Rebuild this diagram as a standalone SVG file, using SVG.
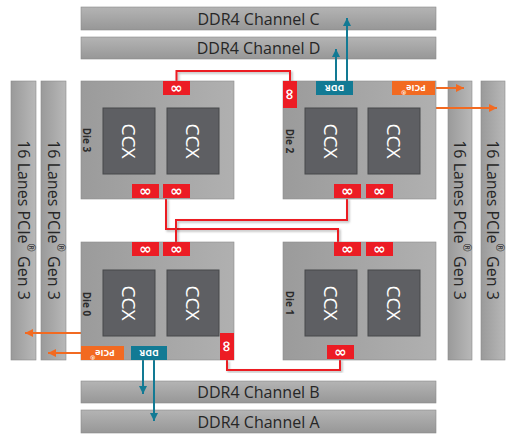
<svg xmlns="http://www.w3.org/2000/svg" width="512" height="445" viewBox="0 0 512 445">
<defs>
<linearGradient id="gH" x1="0" y1="0" x2="0" y2="1"><stop offset="0" stop-color="#b4b4b4"/><stop offset="1" stop-color="#979797"/></linearGradient>
<linearGradient id="gV" x1="0" y1="0" x2="1" y2="0"><stop offset="0" stop-color="#9a9a9a"/><stop offset="1" stop-color="#b8b8b8"/></linearGradient>
<linearGradient id="gDie" x1="0" y1="0" x2="1" y2="0"><stop offset="0" stop-color="#9b9b9b"/><stop offset="1" stop-color="#b0b0b0"/></linearGradient>
<filter id="sh" x="-10%" y="-10%" width="130%" height="130%"><feDropShadow dx="1.5" dy="1.5" stdDeviation="1" flood-color="#000" flood-opacity="0.3"/></filter>
<marker id="aT" viewBox="0 0 10 10" refX="10" refY="5" markerWidth="8" markerHeight="8" markerUnits="userSpaceOnUse" orient="auto"><path d="M0,0 L10,5 L0,10 z" fill="#127a94"/></marker>
<marker id="aO" viewBox="0 0 10 10" refX="10" refY="5" markerWidth="8" markerHeight="8" markerUnits="userSpaceOnUse" orient="auto"><path d="M0,0 L10,5 L0,10 z" fill="#f26a21"/></marker>
</defs>
<style>
.bar{stroke:#8a8a8a;stroke-width:0.6}
.die{fill:url(#gDie);stroke:#8c8c8c;stroke-width:0.6}
.ccx{fill:#5e5f63;stroke:#47484b;stroke-width:1}
.inf{fill:#ec1c24}
.ddr{fill:#127a94}
.pcie{fill:#f26a21}
.bt{font-family:"Open Sans","DejaVu Sans",sans-serif;font-size:16px;fill:#262626;text-anchor:middle;dominant-baseline:central}
.ct{font-family:"Open Sans","DejaVu Sans",sans-serif;font-size:19px;fill:#ffffff;text-anchor:middle;dominant-baseline:central}
.dl{font-family:"Open Sans","DejaVu Sans",sans-serif;font-size:10px;font-weight:bold;fill:#2b2b2b;text-anchor:middle;dominant-baseline:central}
.it{font-family:"DejaVu Sans",sans-serif;font-size:15px;font-weight:bold;fill:#ffffff;text-anchor:middle;dominant-baseline:central}
.lt{font-family:"Open Sans","DejaVu Sans",sans-serif;font-size:9px;font-weight:bold;fill:#ffffff;text-anchor:middle;dominant-baseline:central}
.rl{fill:none;stroke:#ec1c24;stroke-width:2;filter:url(#sh)}
.tl{fill:none;stroke:#127a94;stroke-width:2}
.ol{fill:none;stroke:#f26a21;stroke-width:2}
</style>
<rect width="512" height="445" fill="#ffffff"/>
<g id="ddr-c"><rect class="bar" x="81" y="7" width="355" height="23" fill="url(#gH)"/><text class="bt" x="258.5" y="18.5">DDR4 Channel C</text></g>
<g id="ddr-d"><rect class="bar" x="81" y="37" width="355" height="22" fill="url(#gH)"/><text class="bt" x="258.5" y="48">DDR4 Channel D</text></g>
<g id="ddr-b"><rect class="bar" x="81" y="381" width="355" height="22" fill="url(#gH)"/><text class="bt" x="258.5" y="392">DDR4 Channel B</text></g>
<g id="ddr-a"><rect class="bar" x="81" y="410" width="355" height="23" fill="url(#gH)"/><text class="bt" x="258.5" y="421.5">DDR4 Channel A</text></g>
<g id="pcie-l1"><rect class="bar" x="11" y="81" width="25" height="279" fill="url(#gV)"/><text class="bt" transform="rotate(90 23.5 220)" x="23.5" y="220">16 Lanes PCIe<tspan font-size="10" baseline-shift="super">®</tspan> Gen 3</text></g>
<g id="pcie-l2"><rect class="bar" x="41" y="81" width="25" height="279" fill="url(#gV)"/><text class="bt" transform="rotate(90 53.5 220)" x="53.5" y="220">16 Lanes PCIe<tspan font-size="10" baseline-shift="super">®</tspan> Gen 3</text></g>
<g id="pcie-r1"><rect class="bar" x="448" y="81" width="24" height="279" fill="url(#gV)"/><text class="bt" transform="rotate(90 460 220)" x="460" y="220">16 Lanes PCIe<tspan font-size="10" baseline-shift="super">®</tspan> Gen 3</text></g>
<g id="pcie-r2"><rect class="bar" x="481" y="81" width="24" height="279" fill="url(#gV)"/><text class="bt" transform="rotate(90 493 220)" x="493" y="220">16 Lanes PCIe<tspan font-size="10" baseline-shift="super">®</tspan> Gen 3</text></g>

<g id="connectors">
<path class="rl" d="M176.5,81 V71 H290 V81"/>
<path class="rl" d="M145.5,198 V242"/>
<path class="rl" d="M166,198 V229 H338 V242"/>
<path class="rl" d="M176,242 V220 H347 V198"/>
<path class="rl" d="M379,198 V242"/>
<path class="rl" d="M227,360 V370 H340 V359"/>
<path class="tl" d="M336,81 V49" marker-end="url(#aT)"/>
<path class="tl" d="M347,81 V18" marker-end="url(#aT)"/>
<path class="tl" d="M143,360 V394" marker-end="url(#aT)"/>
<path class="tl" d="M154,360 V421" marker-end="url(#aT)"/>
<path class="ol" d="M435,88 H464" marker-end="url(#aO)"/>
<path class="ol" d="M424,95 V108 H497" marker-end="url(#aO)"/>
<path class="ol" d="M81,353 H48" marker-end="url(#aO)"/>
<path class="ol" d="M97,346 V333 H25" marker-end="url(#aO)"/>
</g>

<g id="die3">
<rect class="die" x="81" y="81" width="153" height="118"/>
<text class="dl" transform="rotate(90 87 140)" x="87" y="140">Die 3</text>
<rect class="ccx" x="103" y="108" width="52" height="66"/><text class="ct" transform="rotate(90 129 141)" x="129" y="141">CCX</text>
<rect class="ccx" x="167" y="108" width="52" height="66"/><text class="ct" transform="rotate(90 193 141)" x="193" y="141">CCX</text>
<rect class="inf" x="163" y="81" width="27" height="14"/><text class="it" x="176.5" y="88">∞</text>
<rect class="inf" x="132" y="184" width="27" height="14"/><text class="it" x="145.5" y="191">∞</text>
<rect class="inf" x="163" y="184" width="27" height="14"/><text class="it" x="176.5" y="191">∞</text>
</g>
<g id="die2">
<rect class="die" x="283" y="81" width="153" height="118"/>
<text class="dl" transform="rotate(90 290 141)" x="290" y="141">Die 2</text>
<rect class="ccx" x="305" y="108" width="52" height="66"/><text class="ct" transform="rotate(90 331 141)" x="331" y="141">CCX</text>
<rect class="ccx" x="368" y="108" width="52" height="66"/><text class="ct" transform="rotate(90 394 141)" x="394" y="141">CCX</text>
<rect class="inf" x="283" y="81" width="14" height="27"/><text class="it" transform="rotate(90 290 94.5)" x="290" y="94.5">∞</text>
<rect class="ddr" x="316" y="81" width="37" height="14"/><text class="lt" transform="rotate(180 334.5 88)" x="334.5" y="88">DDR</text>
<rect class="pcie" x="392" y="81" width="43" height="14"/><text class="lt" transform="rotate(180 413.5 88)" x="413.5" y="88">PCIe<tspan font-size="6" baseline-shift="super">®</tspan></text>
<rect class="inf" x="334" y="184" width="27" height="14"/><text class="it" x="347.5" y="191">∞</text>
<rect class="inf" x="366" y="184" width="27" height="14"/><text class="it" x="379.5" y="191">∞</text>
</g>
<g id="die0">
<rect class="die" x="81" y="242" width="153" height="118"/>
<text class="dl" transform="rotate(90 87 304)" x="87" y="304">Die 0</text>
<rect class="ccx" x="103" y="270" width="52" height="66"/><text class="ct" transform="rotate(90 129 303)" x="129" y="303">CCX</text>
<rect class="ccx" x="167" y="270" width="52" height="66"/><text class="ct" transform="rotate(90 193 303)" x="193" y="303">CCX</text>
<rect class="inf" x="132" y="242" width="27" height="14"/><text class="it" x="145.5" y="249">∞</text>
<rect class="inf" x="163" y="242" width="27" height="14"/><text class="it" x="176.5" y="249">∞</text>
<rect class="inf" x="220" y="333" width="14" height="27"/><text class="it" transform="rotate(90 227 346.5)" x="227" y="346.5">∞</text>
<rect class="ddr" x="131" y="346" width="36" height="14"/><text class="lt" transform="rotate(180 149 353)" x="149" y="353">DDR</text>
<rect class="pcie" x="81" y="346" width="43" height="14"/><text class="lt" transform="rotate(180 102.5 353)" x="102.5" y="353">PCIe<tspan font-size="6" baseline-shift="super">®</tspan></text>
</g>
<g id="die1">
<rect class="die" x="283" y="242" width="153" height="118"/>
<text class="dl" transform="rotate(90 290 303)" x="290" y="303">Die 1</text>
<rect class="ccx" x="305" y="270" width="52" height="66"/><text class="ct" transform="rotate(90 331 303)" x="331" y="303">CCX</text>
<rect class="ccx" x="368" y="270" width="52" height="66"/><text class="ct" transform="rotate(90 394 303)" x="394" y="303">CCX</text>
<rect class="inf" x="334" y="242" width="27" height="14"/><text class="it" x="347.5" y="249">∞</text>
<rect class="inf" x="366" y="242" width="27" height="14"/><text class="it" x="379.5" y="249">∞</text>
<rect class="inf" x="327" y="345" width="27" height="14"/><text class="it" x="340.5" y="352">∞</text>
</g>
</svg>
